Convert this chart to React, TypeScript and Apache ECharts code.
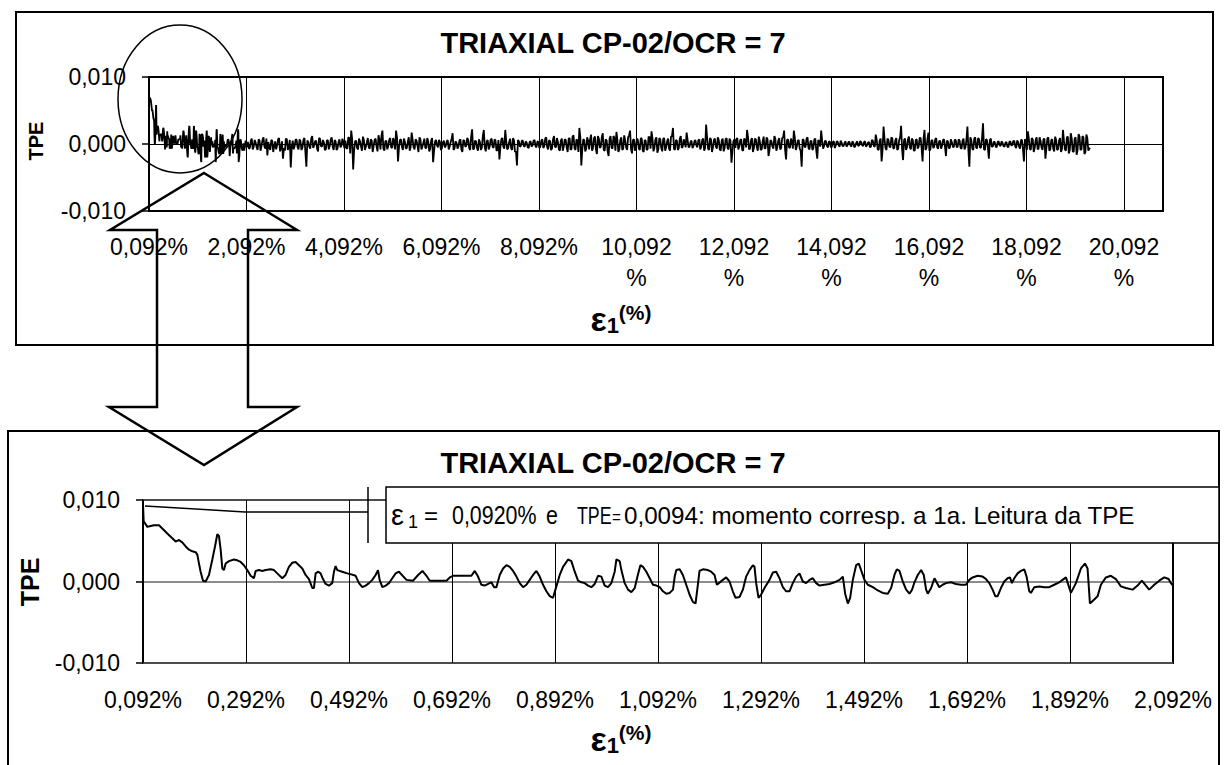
import React, { useEffect, useRef } from "react";
import * as echarts from "echarts";

const FONT = "'Liberation Sans', Arial, Helvetica, sans-serif";
const CHART_TITLE = "TRIAXIAL CP-02/OCR = 7";
const Y_NAME = "TPE";
const STRAIN_ORIGIN = 0.092; // first reading: ε1 = 0,092 %
const NOTE_STRAIN = "0,0920%";
const NOTE_TPE_TEXT = "0,0094: momento corresp. a 1a. Leitura da TPE";

// Detailed readings, ε1 (%) from 0,092 to 2,092 (lower chart)
const zoomStrain = [
  0.092, 0.0933, 0.1004, 0.1069, 0.1134, 0.1231, 0.1295, 0.1392, 0.1489, 0.1554,
  0.1619, 0.1683, 0.1748, 0.1813, 0.1878, 0.1942, 0.1975, 0.2007, 0.2039, 0.2085,
  0.2136, 0.2201, 0.2266, 0.2318, 0.2363, 0.2395, 0.2428, 0.246, 0.2492, 0.2525,
  0.2589, 0.2686, 0.2751, 0.2816, 0.288, 0.2945, 0.301, 0.3074, 0.3107, 0.3172,
  0.3236, 0.3301, 0.3398, 0.3463, 0.3527, 0.3624, 0.3689, 0.3754, 0.3819, 0.3883,
  0.3948, 0.4013, 0.4077, 0.4142, 0.4207, 0.4239, 0.4272, 0.4324, 0.4369, 0.4401,
  0.4466, 0.4531, 0.4595, 0.4628, 0.466, 0.4692, 0.4789, 0.4886, 0.4951, 0.5049,
  0.5114, 0.5178, 0.5243, 0.5308, 0.5372, 0.5437, 0.5483, 0.5515, 0.5567, 0.5632,
  0.5696, 0.5761, 0.5826, 0.589, 0.6035, 0.6165, 0.6262, 0.6346, 0.6424, 0.6488,
  0.6618, 0.6812, 0.6877, 0.6941, 0.7297, 0.7362, 0.7426, 0.7491, 0.7556, 0.7621,
  0.7685, 0.7737, 0.7782, 0.7847, 0.7912, 0.7976, 0.8041, 0.8106, 0.8171, 0.8235,
  0.83, 0.8365, 0.8429, 0.8494, 0.8559, 0.8623, 0.8688, 0.8753, 0.8818, 0.8882,
  0.8947, 0.9012, 0.9076, 0.9174, 0.9238, 0.9303, 0.9368, 0.9432, 0.9497, 0.9562,
  0.9626, 0.9691, 0.9756, 0.982, 0.9885, 0.995, 1.0014, 1.0079, 1.0112, 1.0176,
  1.0209, 1.0273, 1.0338, 1.0403, 1.0468, 1.0532, 1.0578, 1.0629, 1.0694, 1.0759,
  1.0823, 1.0888, 1.0953, 1.1017, 1.1082, 1.1147, 1.1211, 1.1244, 1.1276, 1.1341,
  1.1403, 1.1468, 1.1532, 1.1597, 1.1649, 1.1694, 1.1726, 1.1791, 1.1888, 1.1953,
  1.2018, 1.2063, 1.2102, 1.2179, 1.2244, 1.2309, 1.2373, 1.2425, 1.2503, 1.2568,
  1.2632, 1.2697, 1.2762, 1.2794, 1.2826, 1.2872, 1.2923, 1.2988, 1.3085, 1.315,
  1.3215, 1.3279, 1.3344, 1.3409, 1.3473, 1.3538, 1.3603, 1.3667, 1.3732, 1.3797,
  1.3862, 1.3926, 1.3991, 1.4056, 1.4153, 1.425, 1.4347, 1.4444, 1.4509, 1.4554,
  1.4606, 1.4651, 1.4703, 1.4767, 1.4819, 1.4864, 1.4929, 1.4994, 1.5091, 1.5188,
  1.5285, 1.5382, 1.5447, 1.5511, 1.5557, 1.5608, 1.5673, 1.5738, 1.5803, 1.5854,
  1.59, 1.5964, 1.6029, 1.6081, 1.6126, 1.6158, 1.6223, 1.6288, 1.6382, 1.6447,
  1.6512, 1.6609, 1.6706, 1.6803, 1.69, 1.6965, 1.7029, 1.7126, 1.7223, 1.7288,
  1.7353, 1.7417, 1.7469, 1.7515, 1.7579, 1.7644, 1.7709, 1.7754, 1.7793, 1.7838,
  1.7903, 1.7967, 1.8032, 1.8077, 1.8129, 1.8161, 1.8226, 1.8323, 1.842, 1.8517,
  1.8614, 1.8711, 1.8776, 1.8841, 1.8938, 1.9035, 1.9132, 1.921, 1.9261, 1.9307,
  1.9391, 1.9456, 1.952, 1.9617, 1.9714, 1.9811, 1.9908, 2.0005, 2.0135, 2.0232,
  2.0316, 2.0394, 2.0458, 2.0556, 2.0653, 2.075, 2.0834, 2.0879, 2.092,
];
const zoomTpe = [
  0.0094, 0.0074, 0.0067, 0.0068, 0.0069, 0.0069, 0.0065, 0.0059, 0.0053, 0.0049,
  0.0051, 0.0048, 0.0043, 0.0039, 0.0037, 0.0036, 0.0033, 0.0022, 0.0012, 0.0001,
  0.0, 0.0008, 0.0027, 0.0043, 0.0058, 0.0056, 0.0039, 0.0016, 0.0014, 0.0022,
  0.0025, 0.0027, 0.0026, 0.0024, 0.002, 0.0014, 0.0007, 0.0004, 0.0013, 0.0014,
  0.0013, 0.0014, 0.0015, 0.0014, 0.001, 0.0004, 0.0008, 0.0018, 0.0023, 0.0024,
  0.002, 0.0016, 0.0008, 0.0003, -0.0008, -0.0008, 0.001, 0.0012, 0.001, 0.0005,
  -0.0003, -0.0005, -0.0002, 0.0012, 0.0019, 0.0014, 0.0012, 0.001, 0.0009, 0.0007,
  -0.0002, -0.0007, -0.0005, -0.0002, 0.0002, 0.0008, 0.0014, 0.0002, -0.0007, -0.0005,
  -0.0002, 0.0004, 0.001, 0.0012, 0.0002, 0.0001, 0.0008, 0.0013, 0.0007, 0.0001,
  0.0001, 0.0001, 0.0005, 0.0007, 0.0007, 0.0013, 0.0006, -0.0004, -0.0005, -0.0003,
  -0.0001, -0.0007, -0.0007, 0.0008, 0.0016, 0.002, 0.0018, 0.0013, 0.0006, -0.0002,
  -0.0007, -0.0004, 0.0002, 0.0008, 0.0013, 0.0006, -0.0004, -0.0012, -0.0018, -0.002,
  -0.0006, 0.0008, 0.0018, 0.0027, 0.0025, 0.0012, 0.0001, -0.0001, -0.0002, -0.0005,
  -0.0007, -0.0003, 0.0007, 0.0006, -0.0005, -0.0007, -0.0002, 0.0012, 0.0027, 0.0025,
  0.0014, -0.0002, -0.001, -0.0013, -0.0008, 0.0009, 0.002, 0.0018, 0.0012, 0.0004,
  -0.0004, -0.0005, -0.0007, -0.0012, -0.0015, -0.0014, -0.001, 0.0006, 0.0014, 0.0015,
  0.0008, -0.0004, -0.0016, -0.0025, -0.0027, -0.0004, 0.0013, 0.0015, 0.0014, 0.0012,
  0.0008, -0.0004, -0.0002, 0.0002, 0.0005, 0.0, -0.0012, -0.002, -0.0019, -0.001,
  0.0006, 0.0014, 0.002, 0.0018, -0.0002, -0.002, -0.0016, -0.0008, 0.0002, 0.0011,
  0.0012, 0.0004, -0.0007, -0.0012, -0.0012, -0.0002, 0.0006, 0.001, 0.0, -0.0002,
  0.0002, 0.0004, -0.0002, -0.0005, -0.0004, -0.0003, -0.0001, 0.0002, 0.0006, -0.0015,
  -0.0027, -0.002, 0.0002, 0.002, 0.0022, 0.0014, 0.0002, -0.0004, -0.0007, -0.0011,
  -0.0014, -0.0015, -0.0008, 0.0008, 0.0015, 0.0013, 0.0, -0.001, -0.0015, -0.001,
  -0.0001, 0.0008, 0.0014, 0.0008, -0.001, -0.0015, -0.0008, 0.0004, -0.0007, -0.0004,
  -0.0002, -0.0001, -0.0003, -0.0004, -0.0004, 0.0002, 0.0005, 0.0007, 0.0006, 0.0003,
  -0.0002, -0.001, -0.0018, -0.0018, -0.0008, 0.0, 0.0004, 0.0005, -0.0002, 0.0004,
  0.001, 0.0013, 0.0015, 0.0006, -0.0012, -0.0014, -0.0007, -0.0006, -0.0007, -0.0007,
  -0.0004, -0.0001, 0.0002, 0.0005, -0.0014, -0.0002, 0.0016, 0.0022, 0.0016, -0.0027,
  -0.0022, -0.0018, -0.0004, 0.0005, 0.0007, 0.0003, -0.0006, -0.0008, -0.001, -0.0005,
  0.0001, -0.0005, -0.001, -0.0004, 0.0001, 0.0005, 0.0003, -0.0002, -0.0005,
];

// Remaining readings of the whole test (upper chart):
// set A from ε1 = 2,12 % and set B from ε1 = 2,14 %, each every 0,04 %
const tailStartA = 2.12;
const tailStartB = 2.14;
const tailStep = 0.04;
const tailTpeA = [
  // 2,12 – 3,08
  0.0003, -0.0006, 0.0008, -0.0004, 0.0002, -0.0009, 0.0005, -0.0003, 0.001, -0.0007,
  -0.0017, -0.0005, 0.0006, -0.0012, 0.0004, -0.0002, 0.0009, -0.0006, -0.0022, -0.001,
  0.0007, -0.0004, -0.0035, 0.0005, -0.0003,
  // 3,12 – 4,08
  0.0006, -0.0008, 0.0004, -0.0005, 0.0009, -0.0034, 0.0003, -0.0007, 0.0012, -0.0002,
  0.0005, -0.0011, 0.0008, -0.0004, 0.0002, -0.0008, 0.0006, -0.0003, 0.001, -0.0009,
  0.0004, -0.0006, 0.0007, -0.0002, 0.0003,
  // 4,12 – 5,08
  0.0005, -0.0007, 0.0009, 0.002, -0.0038, 0.0004, -0.0006, 0.0008, -0.0003, 0.0011,
  -0.0009, 0.0002, -0.0005, 0.0007, -0.0012, 0.0006, -0.0004, 0.0013, -0.0008, 0.002,
  -0.001, 0.0005, -0.0003, 0.0009, -0.0006,
  // 5,12 – 6,08
  0.0004, 0.002, -0.0026, 0.0006, -0.0004, 0.0008, -0.0007, 0.0003, -0.001, 0.0017,
  -0.0005, 0.0007, -0.0003, 0.001, -0.0008, 0.0002, -0.0006, 0.0009, -0.0011, 0.0005,
  -0.0027, 0.0004, -0.0002, 0.0006, -0.0009,
  // 6,12 – 7,08
  0.0002, -0.0005, 0.0004, -0.0008, 0.0003, 0.0016, -0.0006, 0.0002, -0.0004, 0.0007,
  -0.0012, 0.0005, -0.0003, 0.0006, -0.0009, 0.0022, -0.0007, 0.0004, -0.001, 0.0003,
  -0.0005, 0.0021, -0.0011, 0.0006, -0.0004,
  // 7,12 – 8,08
  0.0008, -0.0006, 0.0005, -0.0009, -0.0023, 0.0007, -0.0004, 0.0021, -0.0008, 0.0003,
  -0.0006, 0.0009, -0.0012, -0.0032, 0.0004, -0.0003, 0.0005, -0.0004, 0.0002, -0.0006,
  0.0004, -0.0002, 0.0006, -0.0005, 0.0003,
  // 8,12 – 9,08
  -0.0004, 0.0007, -0.0003, 0.001, -0.0008, 0.0004, -0.0006, 0.0012, -0.0005, 0.0003,
  -0.001, 0.0008, -0.0004, 0.0006, -0.0012, 0.0009, -0.0007, 0.0013, -0.0009, 0.0005,
  0.0024, -0.0032, 0.0007, -0.0011, 0.001,
  // 9,12 – 10,08
  -0.0008, 0.0014, -0.0006, 0.0011, -0.0015, 0.0008, -0.0004, 0.0016, -0.001, 0.0005,
  -0.0018, 0.0012, -0.0007, 0.0009, 0.0018, -0.0012, 0.0006, -0.0009, 0.0013, -0.0005,
  0.001, 0.002, -0.0014, 0.0007, -0.0004,
  // 10,12 – 11,08
  0.0006, -0.0009, 0.0008, -0.0012, 0.0005, -0.0008, 0.001, 0.0019, -0.0011, 0.0007,
  -0.0013, 0.0009, -0.0006, 0.0008, -0.001, 0.0004, -0.0007, 0.0011, 0.0024, -0.0009,
  0.0005, -0.0006, 0.0012, -0.0004, 0.0003,
  // 11,12 – 12,08
  0.0017, -0.0005, 0.0003, -0.0006, 0.0004, -0.0002, 0.0005, -0.0008, 0.0006, -0.001,
  0.0029, -0.0007, 0.0009, -0.0012, 0.0006, -0.0004, 0.001, -0.0008, 0.0005, -0.0011,
  0.0007, -0.0006, 0.0008, -0.0028, 0.0004,
  // 12,12 – 13,08
  -0.0006, 0.0009, -0.0004, 0.0007, -0.001, 0.0006, 0.0021, -0.0008, 0.0005, -0.0012,
  0.0008, -0.0005, 0.0011, -0.0009, 0.0004, -0.0007, 0.001, -0.0018, 0.0006, -0.0004,
  0.0012, -0.001, 0.0005, -0.0008, 0.0009,
  // 13,12 – 14,08
  0.002, -0.0023, 0.0007, -0.0006, 0.0004, 0.002, -0.0009, 0.0005, -0.0007, -0.0034,
  0.0006, -0.0004, 0.001, -0.0008, 0.0005, -0.0006, 0.0008, -0.0022, 0.0004, 0.002,
  -0.0007, 0.0005, -0.0003, 0.0004, -0.0005,
  // 14,12 – 15,08
  0.0003, -0.0006, 0.0004, -0.0002, 0.0005, -0.0003, 0.0002, -0.0004, 0.0003, -0.0002,
  0.0004, -0.0005, 0.0002, -0.0003, 0.0004, -0.0002, 0.0003, -0.0004, 0.0002, -0.0005,
  0.0006, -0.0003, 0.0014, -0.0008, 0.0005,
  // 15,12 – 16,08
  -0.0026, 0.0026, -0.0006, 0.0008, -0.0004, 0.001, -0.0007, 0.0005, -0.0009, 0.0006,
  0.0027, -0.0024, 0.0008, -0.0005, 0.0011, -0.0008, 0.0006, -0.001, 0.0007, -0.0004,
  0.0009, -0.0026, 0.0021, -0.0006, 0.0017,
  // 16,12 – 17,08
  -0.0008, 0.0006, -0.0004, 0.0009, -0.0007, 0.0005, -0.0003, 0.0007, -0.0018, 0.0004,
  -0.0006, 0.0003, -0.0005, 0.0006, -0.0004, 0.0005, -0.0007, 0.0008, -0.0005, 0.0026,
  -0.0034, 0.0006, -0.0009, 0.001, -0.0006,
  // 17,12 – 18,08
  0.0007, -0.0005, 0.0031, -0.0009, 0.0006, -0.0022, 0.0008, -0.0004, 0.0003, -0.0005,
  0.0004, -0.0003, 0.0002, -0.0004, 0.0003, -0.0005, 0.0004, -0.0002, 0.0005, -0.0006,
  0.0003, -0.0007, 0.0006, -0.0026, 0.0005,
  // 18,12 – 19,40
  0.0019, -0.0007, 0.0009, -0.0012, 0.0006, -0.0008, 0.001, -0.0005, 0.0007, -0.0022,
  0.0008, -0.001, 0.0006, -0.0007, 0.0011, -0.0009, 0.0005, -0.0012, 0.0021, -0.0008,
  0.001, -0.0014, 0.0016, -0.0011, 0.0008, -0.0016, 0.0015, -0.0009, 0.0012, -0.0015,
  0.0014, -0.001, -0.0006,
];
const tailTpeB = [
  // 2,14 – 3,10
  -0.0007, 0.0005, -0.0008, 0.0006, -0.0005, 0.0007, -0.001, 0.0006, -0.0004, 0.0008,
  0.0003, -0.0009, 0.0005, -0.0003, -0.0008, 0.0007, -0.0011, 0.0004, -0.0006, 0.0008,
  -0.0009, 0.0006, -0.0004, -0.0008, 0.0007,
  // 3,14 – 4,10
  -0.0005, 0.0007, -0.0009, 0.0006, -0.0012, 0.0005, -0.0004, 0.0008, -0.0006, 0.0004,
  -0.0007, 0.0009, -0.0003, 0.0006, -0.0009, 0.0005, -0.0008, 0.0007, -0.0004, 0.0006,
  -0.0009, 0.0003, -0.0005, 0.0008, -0.0006,
  // 4,14 – 5,10
  -0.0006, 0.001, -0.0014, 0.0007, -0.0009, 0.0005, -0.0008, 0.0004, -0.001, 0.0006,
  -0.0004, 0.0009, -0.0007, 0.0005, -0.0003, 0.0008, -0.0011, 0.0006, 0.0012, -0.0007,
  0.0004, -0.0008, 0.0006, -0.0005, 0.0009,
  // 5,14 – 6,10
  -0.0008, 0.0009, -0.0005, 0.0007, -0.0009, 0.0004, -0.0006, 0.001, -0.0004, 0.0006,
  -0.0008, 0.0005, -0.0012, 0.0007, -0.0004, 0.0008, -0.0006, 0.0004, -0.0007, 0.0009,
  -0.001, 0.0006, -0.0005, 0.0003, -0.0006,
  // 6,14 – 7,10
  0.0005, -0.0003, 0.0006, -0.0004, 0.0008, -0.0009, 0.0004, -0.0007, 0.0005, -0.0008,
  0.0006, -0.0004, 0.0009, -0.0006, 0.0011, -0.0008, 0.0005, -0.0006, 0.0007, -0.0009,
  0.0012, -0.0005, 0.0004, -0.0008, 0.0006,
  // 7,14 – 8,10
  -0.0004, 0.0007, -0.001, 0.0006, -0.0005, 0.0009, -0.0007, 0.0004, -0.0006, 0.0008,
  -0.0009, 0.0005, -0.0011, 0.0006, -0.0004, 0.0005, -0.0003, 0.0004, -0.0005, 0.0003,
  -0.0004, 0.0005, -0.0003, 0.0004, -0.0006,
  // 8,14 – 9,10
  0.0005, -0.0006, 0.0008, -0.0005, 0.0006, -0.0009, 0.0007, -0.0004, 0.0009, -0.0008,
  0.0005, -0.001, 0.0007, -0.0005, 0.0008, -0.0009, 0.0011, -0.0006, 0.0007, -0.0012,
  0.001, -0.0008, 0.0006, -0.0007, 0.0005,
  // 9,14 – 10,10
  0.0007, -0.001, 0.0009, -0.0008, 0.0012, -0.0006, 0.001, -0.0009, 0.0007, -0.0011,
  0.0008, -0.0005, 0.0012, -0.001, 0.0006, -0.0008, 0.001, -0.0007, 0.0005, -0.0009,
  0.0013, -0.0008, 0.0006, -0.001, 0.0008,
  // 10,14 – 11,10
  -0.0007, 0.0009, -0.001, 0.0006, -0.0009, 0.0011, -0.0007, 0.0008, -0.0006, 0.001,
  -0.0008, 0.0007, -0.0011, 0.0009, -0.0005, 0.0008, -0.001, 0.0012, -0.0007, 0.0006,
  -0.0009, 0.0008, -0.0006, 0.0007, -0.0005,
  // 11,14 – 12,10
  0.0006, -0.0004, 0.0005, -0.0003, 0.0006, -0.0005, 0.0007, -0.0004, 0.0008, -0.0006,
  0.001, -0.0009, 0.0007, -0.0005, 0.0008, -0.0007, 0.0006, -0.001, 0.0008, -0.0006,
  0.0009, -0.0008, 0.0005, -0.0012, 0.0007,
  // 12,14 – 13,10
  0.0007, -0.0008, 0.0006, -0.0009, 0.0008, -0.0005, 0.001, -0.0007, 0.0009, -0.0006,
  0.0007, -0.001, 0.0005, -0.0008, 0.0011, -0.0006, 0.0007, -0.0009, 0.0004, -0.0007,
  0.0008, -0.0005, 0.0009, -0.0006, 0.001,
  // 13,14 – 14,10
  -0.0009, 0.0006, -0.0005, 0.0008, -0.0007, 0.0009, -0.0004, 0.0006, -0.001, 0.0007,
  -0.0005, 0.0008, -0.0006, 0.0004, -0.0009, 0.0007, -0.001, 0.0006, -0.0004, 0.0005,
  -0.0003, 0.0004, -0.0005, 0.0003, -0.0004,
  // 14,14 – 15,10
  0.0004, -0.0002, 0.0003, -0.0004, 0.0002, -0.0003, 0.0004, -0.0002, 0.0003, -0.0004,
  0.0002, -0.0003, 0.0004, -0.0002, 0.0003, -0.0003, 0.0004, -0.0002, 0.0003, -0.0004,
  0.0005, -0.0004, 0.0006, -0.0009, 0.0008,
  // 15,14 – 16,10
  -0.0008, 0.0007, -0.0009, 0.0006, -0.0005, 0.0008, -0.0006, 0.0009, -0.0007, 0.001,
  -0.0008, 0.0006, -0.0009, 0.0007, -0.0005, 0.0008, -0.001, 0.0006, -0.0007, 0.0009,
  -0.0006, 0.0008, -0.0009, 0.0007, -0.001,
  // 16,14 – 17,10
  0.0005, -0.0006, 0.0007, -0.0005, 0.0004, -0.0007, 0.0006, -0.0004, 0.0005, -0.0006,
  0.0007, -0.0004, 0.0006, -0.0005, 0.0007, -0.0006, 0.0005, -0.0008, 0.0006, -0.0009,
  0.001, -0.0007, 0.0008, -0.0006, 0.0009,
  // 17,14 – 18,10
  -0.0006, 0.0009, -0.0008, 0.0007, -0.0005, 0.0006, -0.0004, 0.0003, -0.0004, 0.0003,
  -0.0002, 0.0004, -0.0003, 0.0002, -0.0004, 0.0003, -0.0002, 0.0004, -0.0003, 0.0005,
  -0.0004, 0.0006, -0.0008, 0.0007, -0.0009,
  // 18,14 – 19,10
  0.0008, -0.0009, 0.0007, -0.0006, 0.001, -0.0007, 0.0005, -0.0009, 0.0008, -0.0006,
  0.001, -0.0008, 0.0007, -0.0011, 0.0006, -0.0008, 0.0009, -0.0007, 0.0005, -0.001,
  0.0011, -0.0009, 0.0008, -0.0012, 0.001,
  // 19,14 – 19,38
  -0.0009, 0.0011, -0.0008, 0.001, -0.0012, 0.0009, -0.0007,
];

// Axis ranges (ε1 measured from the first reading)
const topXSpan = 20.8;
const topXStep = 2;
const bottomXSpan = 2.0;
const bottomXStep = 0.2;
const yMin = -0.01;
const yMax = 0.01;
const yStep = 0.01;

const zoomPts = zoomStrain.map((s, i) => [s - STRAIN_ORIGIN, zoomTpe[i]]);
const tailPts = tailTpeA
  .map((v, i) => [tailStartA + i * tailStep - STRAIN_ORIGIN, v])
  .concat(tailTpeB.map((v, i) => [tailStartB + i * tailStep - STRAIN_ORIGIN, v]))
  .sort((a, b) => a[0] - b[0]);
const fullPts = zoomPts.concat(tailPts);

const pct = (v: number) => (v + STRAIN_ORIGIN).toFixed(3).replace(".", ",");
const onStep = (v: number, step: number) => {
  const k = v / step;
  return Math.abs(k - Math.round(k)) < 1e-6;
};
const topLabel = (v: number) => {
  if (!onStep(v, topXStep)) return "";
  return v + STRAIN_ORIGIN >= 10 ? pct(v) + "\n%" : pct(v) + "%";
};
const bottomLabel = (v: number) => (onStep(v, bottomXStep) ? pct(v) + "%" : "");
const yLabel = (v: number) => (Math.abs(v) < 1e-12 ? 0 : v).toFixed(3).replace(".", ",");

const labelBase = { fontFamily: FONT, fontSize: 23, color: "#000" };

function buildOption(): any {
  const yAxisCommon = (grid: number, zeroColor: string, zeroWidth: number) => ({
    type: "value",
    gridIndex: grid,
    min: yMin,
    max: yMax,
    interval: yStep,
    axisLine: { show: false },
    axisTick: { show: true, length: 7, lineStyle: { color: "#000", width: 1.5 } },
    splitLine: { show: true, lineStyle: { color: zeroColor, width: zeroWidth } },
    axisLabel: { ...labelBase, margin: 23, formatter: yLabel },
  });
  return {
    animation: false,
    backgroundColor: "#fff",
    grid: [
      { left: 149, top: 77, width: 1014, height: 134, show: true, borderColor: "#000", borderWidth: 2, backgroundColor: "transparent" },
      { left: 143, top: 500, width: 1030, height: 163, show: true, borderColor: "#000", borderWidth: 2, backgroundColor: "transparent" },
    ],
    xAxis: [
      {
        type: "value",
        gridIndex: 0,
        min: 0,
        max: topXSpan,
        interval: topXStep,
        axisLine: { show: false, onZero: false },
        axisTick: { show: false },
        splitLine: { show: true, lineStyle: { color: "#000", width: 1 } },
        axisLabel: { ...labelBase, margin: 20, lineHeight: 31, formatter: topLabel },
      },
      {
        type: "value",
        gridIndex: 1,
        min: 0,
        max: bottomXSpan,
        interval: bottomXStep,
        axisLine: { show: false, onZero: false },
        axisTick: { show: false },
        splitLine: { show: true, lineStyle: { color: "#000", width: 1 } },
        axisLabel: { ...labelBase, margin: 24, lineHeight: 26, formatter: bottomLabel },
      },
    ],
    yAxis: [yAxisCommon(0, "#000", 1), yAxisCommon(1, "#666", 1.5)],
    series: [
      {
        type: "line",
        xAxisIndex: 0,
        yAxisIndex: 0,
        data: fullPts,
        symbol: "none",
        silent: true,
        lineStyle: { color: "#000", width: 1.8 },
        z: 5,
      },
      {
        type: "line",
        xAxisIndex: 1,
        yAxisIndex: 1,
        data: zoomPts,
        symbol: "none",
        silent: true,
        lineStyle: { color: "#000", width: 2 },
        z: 5,
      },
    ],
  };
}

const epsRich = {
  e: { fontFamily: FONT, fontSize: 34, fontWeight: "bold", lineHeight: 40, verticalAlign: "bottom", fill: "#000" },
  s: { fontFamily: FONT, fontSize: 22, fontWeight: "bold", lineHeight: 40, verticalAlign: "bottom", fill: "#000" },
  p: { fontFamily: FONT, fontSize: 21, fontWeight: "bold", lineHeight: 40, verticalAlign: "top", padding: [6, 0, 0, 0], fill: "#000" },
};

function txt(x: number, y: number, text: string, size: number, opts: any = {}) {
  return {
    type: "text",
    x,
    y,
    z: 102,
    silent: true,
    rotation: opts.rotation || 0,
    scaleX: opts.scaleX || 1,
    style: {
      text,
      fontFamily: FONT,
      fontSize: size,
      fontWeight: opts.bold ? "bold" : "normal",
      fill: "#000",
      align: opts.align || "center",
      verticalAlign: "middle",
    },
  };
}

function buildGraphic(anchor: number[]) {
  const stroke = (w: number) => ({ fill: "none", stroke: "#000", lineWidth: w });
  return [
    { type: "rect", z: 100, silent: true, shape: { x: 16, y: 12, width: 1197, height: 333 }, style: stroke(2) },
    { type: "rect", z: 100, silent: true, shape: { x: 8, y: 431, width: 1211, height: 360 }, style: stroke(2) },
    { type: "ellipse", z: 100, silent: true, shape: { cx: 180, cy: 99, rx: 62, ry: 74 }, style: stroke(1.5) },
    {
      type: "polygon",
      z: 100,
      silent: true,
      shape: {
        points: [
          [204, 173], [297, 230], [248, 230], [248, 407], [297, 407],
          [204, 465], [109, 407], [157, 407], [157, 230], [110, 230],
        ],
      },
      style: stroke(2.5),
    },
    // callout
    {
      type: "polyline",
      z: 100,
      silent: true,
      shape: { points: [[anchor[0] + 2, anchor[1] + 1], [245, 512], [368, 512]] },
      style: stroke(1.5),
    },
    { type: "line", z: 100, silent: true, shape: { x1: 368, y1: 487, x2: 368, y2: 543 }, style: { stroke: "#000", lineWidth: 1.5 } },
    { type: "rect", z: 101, silent: true, shape: { x: 386, y: 487, width: 833, height: 56 }, style: { fill: "#fff", stroke: "#000", lineWidth: 1.5 } },
    txt(391, 515, "ε", 29, { align: "left" }),
    txt(408, 522, "1", 18, { align: "left" }),
    txt(424, 515, "=", 24, { align: "left" }),
    txt(452, 515, NOTE_STRAIN, 25.5, { align: "left", scaleX: 0.84 }),
    txt(546, 515, "e", 25.5, { align: "left", scaleX: 0.84 }),
    txt(577, 515, "TPE", 24, { align: "left", scaleX: 0.74 }),
    txt(612, 516, "=", 19, { align: "left", scaleX: 0.8 }),
    txt(624, 515, NOTE_TPE_TEXT, 24.2, { align: "left" }),
    // titles
    txt(613, 43, CHART_TITLE, 29, { bold: true }),
    txt(613, 463, CHART_TITLE, 29, { bold: true }),
    txt(36, 141, Y_NAME, 20, { bold: true, rotation: Math.PI / 2 }),
    txt(30, 582, Y_NAME, 25, { bold: true, rotation: Math.PI / 2 }),
    {
      type: "text",
      x: 621,
      y: 316,
      z: 102,
      silent: true,
      style: { text: "{e|ε}{s|1}{p|(%)}", align: "center", verticalAlign: "middle", rich: epsRich },
    },
    {
      type: "text",
      x: 621,
      y: 736,
      z: 102,
      silent: true,
      style: { text: "{e|ε}{s|1}{p|(%)}", align: "center", verticalAlign: "middle", rich: epsRich },
    },
  ];
}

export default function App() {
  const ref = useRef<HTMLDivElement>(null);
  useEffect(() => {
    const el = ref.current;
    if (!el) return;
    const chart = echarts.init(el, null, { renderer: "svg" });
    chart.setOption(buildOption());
    const anchor = chart.convertToPixel({ gridIndex: 1 }, zoomPts[0]) as unknown as number[];
    chart.setOption({ graphic: buildGraphic(anchor) });
    return () => {
      chart.dispose();
    };
  }, []);
  return (
    <div
      ref={ref}
      style={{ position: "absolute", left: 0, top: 0, width: 1225, height: 765, background: "#fff" }}
    />
  );
}
